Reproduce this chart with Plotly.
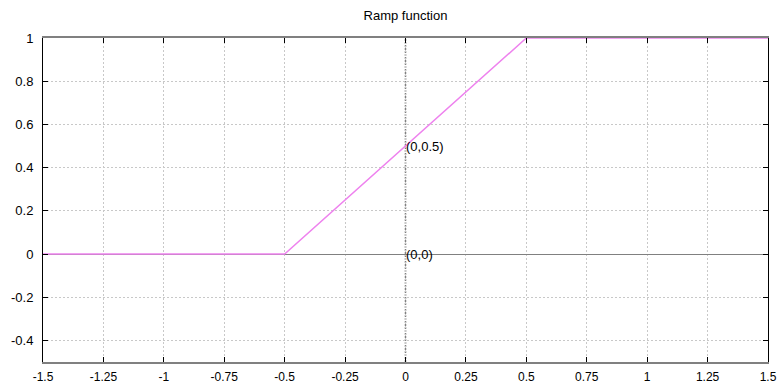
import plotly.graph_objects as go

x_vals = [-1.5, -0.5, 0.5, 1.5]
y_vals = [0, 0, 1, 1]
x_ticks = [-1.5, -1.25, -1, -0.75, -0.5, -0.25, 0, 0.25, 0.5, 0.75, 1, 1.25, 1.5]
x_tick_labels = ["-1.5", "-1.25", "-1", "-0.75", "-0.5", "-0.25", "0", "0.25", "0.5", "0.75", "1", "1.25", "1.5"]
y_ticks = [-0.4, -0.2, 0, 0.2, 0.4, 0.6, 0.8, 1]
y_tick_labels = ["-0.4", "-0.2", "0", "0.2", "0.4", "0.6", "0.8", "1"]
label_x = [0, 0]
label_y = [0.5, 0]
label_text = ["(0,0.5)", "(0,0)"]

fig = go.Figure()
fig.add_trace(go.Scatter(x=x_vals, y=y_vals, mode="lines",
                         line=dict(color="#ee82ee", width=1.5), showlegend=False,
                         cliponaxis=False))
for lx, ly, lt in zip(label_x, label_y, label_text):
    fig.add_annotation(x=lx, y=ly, text=lt, showarrow=False, xanchor="left",
                       yanchor="middle", xshift=-2, font=dict(size=13, color="black"))

fig.add_shape(type="line", xref="x", yref="paper", x0=0, x1=0, y0=0, y1=1,
              line=dict(color="#808080", width=1.5, dash="2px,1px"), layer="below")

fig.update_layout(
    width=777, height=387,
    margin=dict(l=43, r=9, t=38, b=25),
    paper_bgcolor="white", plot_bgcolor="white",
    font=dict(family="Liberation Sans, Arial, sans-serif", size=12, color="black"),
    title=dict(text="Ramp function", x=0.5, xanchor="center", xref="paper",
               y=1 - 15 / 387, yref="container", yanchor="middle", font=dict(size=13)),
    xaxis=dict(range=[-1.5, 1.5], tickvals=x_ticks, ticktext=x_tick_labels,
               showgrid=True, gridcolor="#c8c8c8", griddash="2px,2px", gridwidth=1,
               zeroline=False, showline=True, linecolor="#808080", linewidth=2,
               mirror="allticks", ticks="inside", ticklen=5, tickcolor="black",
               ticklabelstandoff=3, automargin=False, tickfont=dict(size=12)),
    yaxis=dict(range=[-0.5, 1], tickvals=y_ticks, ticktext=y_tick_labels,
               showgrid=True, gridcolor="#c8c8c8", griddash="2px,2px", gridwidth=1,
               zeroline=True, zerolinecolor="#808080", zerolinewidth=1,
               showline=True, linecolor="black", linewidth=1,
               mirror="allticks", ticks="inside", ticklen=5, tickcolor="black",
               ticklabelstandoff=6, automargin=False, tickfont=dict(size=13)),
)

fig.write_html("out.html", config={"displayModeBar": False},
               post_script="document.body.style.margin='0';document.body.style.overflow='hidden';")
